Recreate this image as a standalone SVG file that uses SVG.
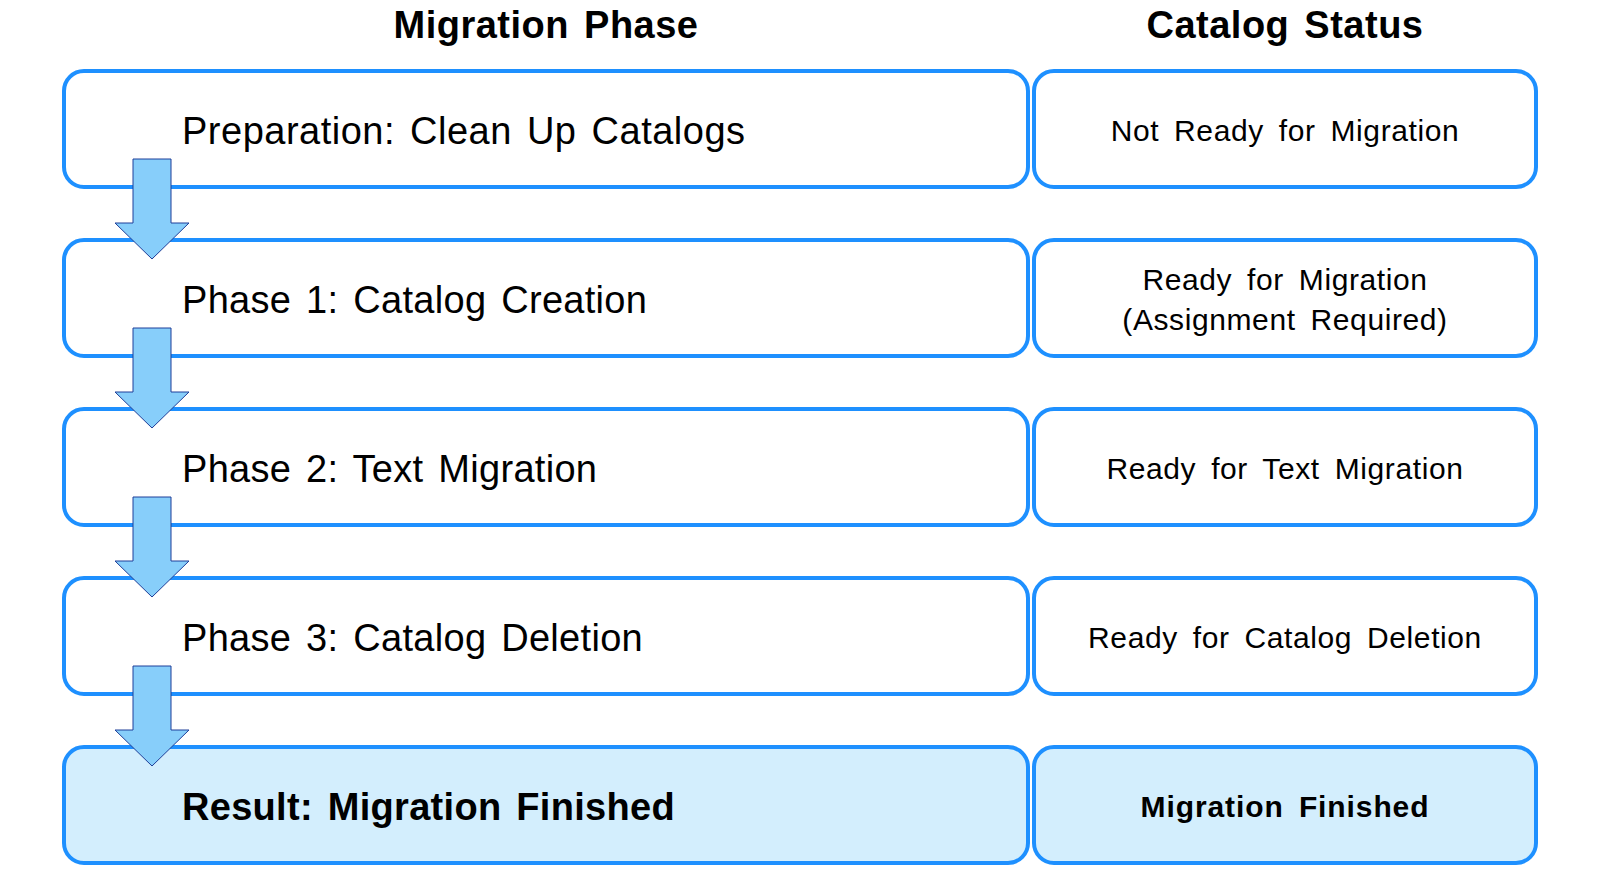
<svg xmlns="http://www.w3.org/2000/svg" width="1600" height="876" viewBox="0 0 1600 876">
<defs>
<style>
.box{fill:#ffffff;stroke:#1e90ff;stroke-width:4}
.res{fill:#d3eefd;stroke:#1e90ff;stroke-width:4}
.hdr{font-family:"Liberation Sans",Arial,sans-serif;font-weight:bold;font-size:38px;letter-spacing:0.5px;word-spacing:4px;fill:#000;text-anchor:middle}
.ph{font-family:"Liberation Sans",Arial,sans-serif;font-size:38px;letter-spacing:0.3px;word-spacing:4px;fill:#000}
.st{font-family:"Liberation Sans",Arial,sans-serif;font-size:30px;letter-spacing:0.6px;word-spacing:6px;fill:#000;text-anchor:middle}
.b{font-weight:bold}
.arr{fill:#87cefa;stroke:#1f3f99;stroke-width:1}
</style>
</defs>
<rect width="1600" height="876" fill="#ffffff"/>
<g id="headers">
<text class="hdr" x="546" y="38">Migration Phase</text>
<text class="hdr" x="1285" y="38">Catalog Status</text>
</g>
<g id="row-prep">
<rect class="box" x="64" y="71" width="964" height="116" rx="20"/>
<text class="ph" x="182" y="144" style="letter-spacing:0.5px">Preparation: Clean Up Catalogs</text>
</g>
<g id="status-prep">
<rect class="box" x="1034" y="71" width="502" height="116" rx="20"/>
<text class="st" x="1285" y="141">Not Ready for Migration</text>
</g>
<g id="row-phase1">
<rect class="box" x="64" y="240" width="964" height="116" rx="20"/>
<text class="ph" x="182" y="313">Phase 1: Catalog Creation</text>
</g>
<g id="status-phase1">
<rect class="box" x="1034" y="240" width="502" height="116" rx="20"/>
<text class="st" x="1285" y="290">Ready for Migration</text>
<text class="st" x="1285" y="330">(Assignment Required)</text>
</g>
<g id="row-phase2">
<rect class="box" x="64" y="409" width="964" height="116" rx="20"/>
<text class="ph" x="182" y="482">Phase 2: Text Migration</text>
</g>
<g id="status-phase2">
<rect class="box" x="1034" y="409" width="502" height="116" rx="20"/>
<text class="st" x="1285" y="479">Ready for Text Migration</text>
</g>
<g id="row-phase3">
<rect class="box" x="64" y="578" width="964" height="116" rx="20"/>
<text class="ph" x="182" y="651">Phase 3: Catalog Deletion</text>
</g>
<g id="status-phase3">
<rect class="box" x="1034" y="578" width="502" height="116" rx="20"/>
<text class="st" x="1285" y="648">Ready for Catalog Deletion</text>
</g>
<g id="row-result">
<rect class="res" x="64" y="747" width="964" height="116" rx="20"/>
<text class="ph b" x="182" y="820">Result: Migration Finished</text>
</g>
<g id="status-result">
<rect class="res" x="1034" y="747" width="502" height="116" rx="20"/>
<text class="st b" x="1285" y="817" style="letter-spacing:0.9px">Migration Finished</text>
</g>
<g id="connectors">
<polygon class="arr" points="133,159 171,159 171,223 189,223 152,259 115,223 133,223"/>
<polygon class="arr" points="133,328 171,328 171,392 189,392 152,428 115,392 133,392"/>
<polygon class="arr" points="133,497 171,497 171,561 189,561 152,597 115,561 133,561"/>
<polygon class="arr" points="133,666 171,666 171,730 189,730 152,766 115,730 133,730"/>
</g>
</svg>
